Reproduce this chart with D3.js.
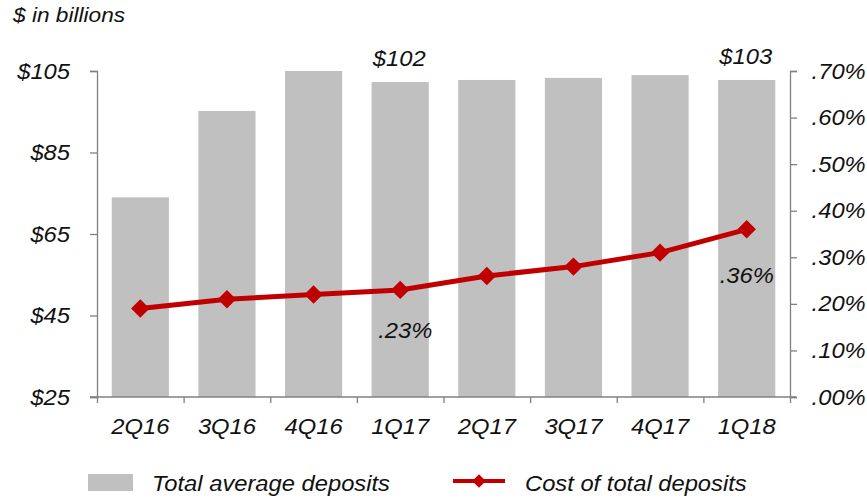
<!DOCTYPE html>
<html>
<head>
<meta charset="utf-8">
<script src="https://cdn.jsdelivr.net/npm/d3@7"></script>
<style>
  body { margin: 0; background: #fff; }
  svg text { font-family: "Liberation Sans", Arial, sans-serif; font-style: italic; fill: #111; }
</style>
</head>
<body>
<div id="chart"></div>
<script>
const quarters = ['2Q16', '3Q16', '4Q16', '1Q17', '2Q17', '3Q17', '4Q17', '1Q18'];
const deposits = [74, 95.2, 105, 102.3, 102.8, 103.3, 104, 102.8];
const costPct = [0.19, 0.21, 0.22, 0.23, 0.26, 0.28, 0.31, 0.36];
const leftTicks = [25, 45, 65, 85, 105];
const rightTicks = [0, 0.1, 0.2, 0.3, 0.4, 0.5, 0.6, 0.7];
const barLabels = [{ i: 3, text: '$102' }, { i: 7, text: '$103' }];
const lineLabels = [{ i: 3, text: '.23%' }, { i: 7, text: '.36%' }];

const W = 867, H = 498;
const SX = 1.08; // text is drawn a bit wide in the original
const FS = 22;
const plotL = 97, plotR = 790, plotT = 71, plotB = 397;

const svg = d3.select('#chart').append('svg')
  .attr('width', W)
  .attr('height', H);

const x = d3.scaleBand().domain(quarters).range([plotL, plotR])
  .paddingInner(0.34).paddingOuter(0.17);
const yL = d3.scaleLinear().domain([25, 105]).range([plotB, plotT]);
const yR = d3.scaleLinear().domain([0, 0.7]).range([plotB, plotT]);
const edges = d3.scaleLinear().domain([0, quarters.length]).range([plotL, plotR]);

const stretch = sel => sel.attr('transform', function () {
  const t = d3.select(this).attr('transform') || '';
  return t + ` scale(${SX},1)`;
});

// Bars
svg.append('g').selectAll('rect').data(deposits).join('rect')
  .attr('x', (d, i) => x(quarters[i]))
  .attr('y', d => yL(d))
  .attr('width', x.bandwidth())
  .attr('height', d => yL(25) - yL(d))
  .attr('fill', '#c0c0c0');

// Left axis
const gL = svg.append('g').attr('transform', `translate(${plotL},0)`)
  .call(d3.axisLeft(yL).tickValues(leftTicks).tickSize(7).tickPadding(18)
    .tickFormat(d => '$' + d));
gL.selectAll('text').attr('font-size', FS).call(stretch);

// Right axis
const gR = svg.append('g').attr('transform', `translate(${plotR},0)`)
  .call(d3.axisRight(yR).tickValues(rightTicks).tickSize(7).tickPadding(13)
    .tickFormat(d => d3.format('.2f')(d).replace(/^0/, '') + '%'));
gR.selectAll('text').attr('font-size', FS).call(stretch);

// Bottom axis: baseline + boundary ticks, then labels
const gB = svg.append('g').attr('transform', `translate(0,${plotB})`)
  .call(d3.axisBottom(edges).ticks(quarters.length).tickSize(6).tickFormat(''));
gB.select('.domain').attr('d', `M${plotL - 7},0H${plotR + 6}`);
const gX = svg.append('g').attr('transform', `translate(0,${plotB})`)
  .call(d3.axisBottom(x).tickSize(0).tickPadding(21));
gX.select('.domain').remove();
gX.selectAll('text').attr('font-size', FS).call(stretch);

svg.selectAll('.domain, .tick line').attr('stroke', '#808080').attr('stroke-width', 1.3);

// Line
const cx = (d, i) => x(quarters[i]) + x.bandwidth() / 2;
svg.append('path').datum(costPct)
  .attr('fill', 'none')
  .attr('stroke', '#c00000')
  .attr('stroke-width', 5)
  .attr('d', d3.line().x(cx).y(d => yR(d)));

const diamond = d3.symbol().type(d3.symbolSquare).size(170);
svg.append('g').selectAll('path').data(costPct).join('path')
  .attr('d', diamond)
  .attr('fill', '#c00000')
  .attr('transform', (d, i) => `translate(${cx(d, i)},${yR(d)}) rotate(45)`);

// Data labels
svg.append('g').selectAll('text').data(barLabels).join('text')
  .attr('text-anchor', 'middle').attr('font-size', FS)
  .attr('transform', d => `translate(${x(quarters[d.i]) + x.bandwidth() / 2 - 1},${yL(deposits[d.i]) - 16})`)
  .call(stretch)
  .text(d => d.text);

svg.append('g').selectAll('text').data(lineLabels).join('text')
  .attr('text-anchor', 'middle').attr('font-size', FS)
  .attr('transform', d => `translate(${x(quarters[d.i]) + x.bandwidth() / 2 + (d.i === 7 ? 0 : 5)},${yR(costPct[d.i]) + (d.i === 7 ? 54 : 48)})`)
  .call(stretch)
  .text(d => d.text);

// Unit note
svg.append('text').attr('font-size', 20)
  .attr('transform', 'translate(13,22)').attr('font-size', 21).call(stretch)
  .text('$ in billions');

// Legend
const lg = svg.append('g');
lg.append('rect').attr('x', 88).attr('y', 474).attr('width', 45).attr('height', 17).attr('fill', '#c0c0c0');
lg.append('text').attr('font-size', FS).attr('transform', 'translate(152,491)').call(stretch)
  .text('Total average deposits');
lg.append('line').attr('x1', 453).attr('x2', 505).attr('y1', 481).attr('y2', 481)
  .attr('stroke', '#c00000').attr('stroke-width', 4);
lg.append('path').attr('d', d3.symbol().type(d3.symbolSquare).size(90))
  .attr('fill', '#c00000').attr('transform', 'translate(479,481) rotate(45)');
lg.append('text').attr('font-size', FS).attr('transform', 'translate(525,491)').call(stretch)
  .text('Cost of total deposits');
</script>
</body>
</html>
